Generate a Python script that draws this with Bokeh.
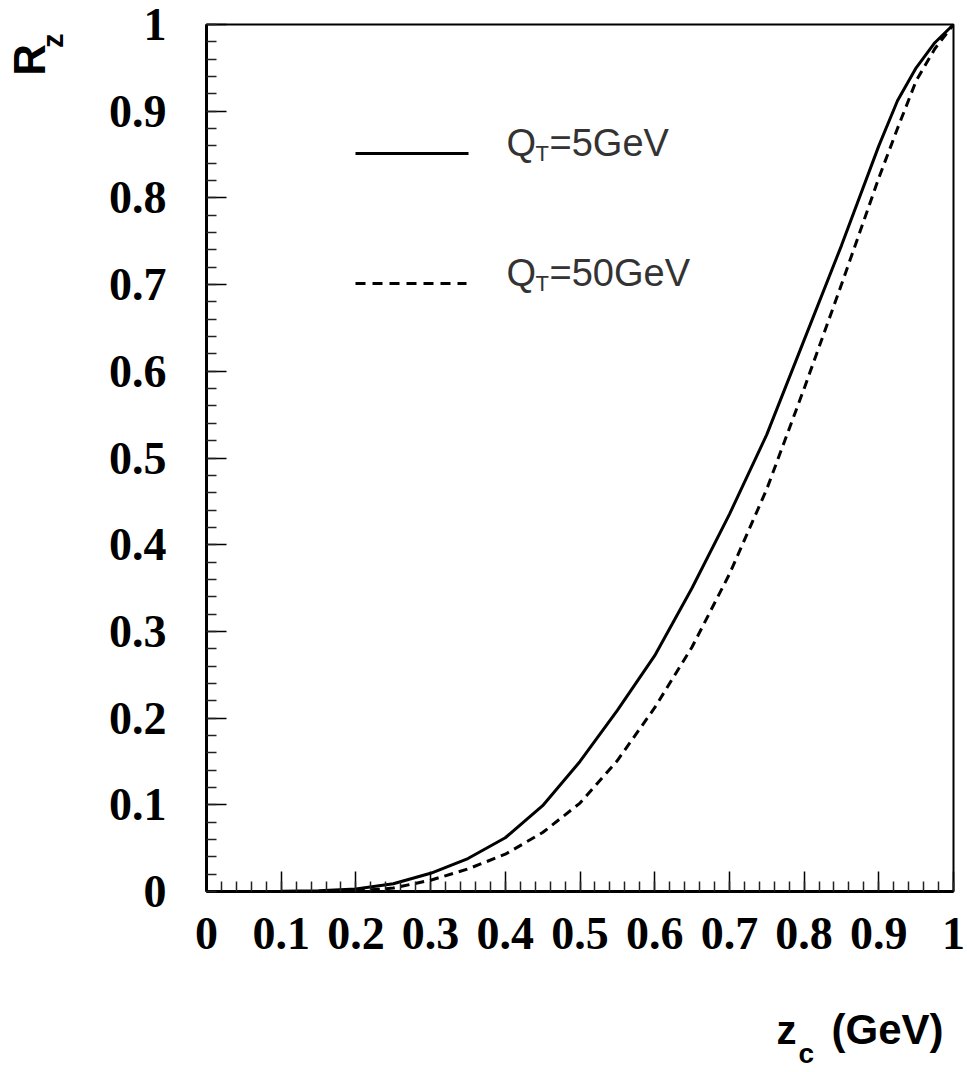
from bokeh.plotting import figure
from bokeh.models import FixedTicker, CustomJSTickFormatter, Label, Range1d
from bokeh.layouts import column, row
from bokeh.embed import file_html
from bokeh.resources import INLINE

# ---------------- data ----------------
z_qt5 = [0.05, 0.10, 0.15, 0.20, 0.25, 0.30, 0.35, 0.40, 0.45, 0.50, 0.55, 0.60,
         0.65, 0.70, 0.75, 0.80, 0.85, 0.90, 0.925, 0.95, 0.975, 1.00]
r_qt5 = [0.0, 0.0003, 0.001, 0.003, 0.009, 0.021, 0.038, 0.062, 0.099, 0.150, 0.209, 0.272,
         0.350, 0.435, 0.527, 0.636, 0.745, 0.860, 0.912, 0.950, 0.979, 1.000]

z_qt50 = [0.20, 0.25, 0.30, 0.35, 0.40, 0.45, 0.50, 0.55, 0.60, 0.65, 0.70,
          0.75, 0.80, 0.85, 0.90, 0.925, 0.95, 0.975, 1.00]
r_qt50 = [0.0005, 0.004, 0.013, 0.026, 0.043, 0.068, 0.102, 0.151, 0.212, 0.282, 0.366,
          0.464, 0.580, 0.700, 0.823, 0.880, 0.935, 0.972, 1.000]

x_ticks = [0, 0.1, 0.2, 0.3, 0.4, 0.5, 0.6, 0.7, 0.8, 0.9, 1]
y_ticks = [0, 0.1, 0.2, 0.3, 0.4, 0.5, 0.6, 0.7, 0.8, 0.9, 1]
minor = [i * 0.02 for i in range(51)]

legend_labels = ["=5GeV", "=50GeV"]

# ---------------- layout ----------------
W, H = 967, 1072
YT_W = 70           # width of the strip holding the y title
XT_H = 72           # height of the strip holding the x title
PW, PH = W - YT_W, H - XT_H
FL, FR, FT, FB = 206, 953, 24, 891   # frame in page pixels


def dx(px):
    return (px - FL) / (FR - FL)


def dy(py):
    return (FB - py) / (FB - FT)


p = figure(width=PW, height=PH, output_backend="svg", toolbar_location=None,
           x_range=Range1d(0, 1), y_range=Range1d(0, 1),
           min_border_left=FL - YT_W, min_border_right=W - FR,
           min_border_top=FT, min_border_bottom=PH - FB)
p.grid.visible = False
p.background_fill_color = "white"
p.border_fill_color = "white"
p.outline_line_color = "black"
p.outline_line_width = 2

fmt = CustomJSTickFormatter(code="return (Math.round(tick*10)/10).toString();")

for ax, ticks in ((p.xaxis[0], x_ticks), (p.yaxis[0], y_ticks)):
    ax.ticker = FixedTicker(ticks=ticks, minor_ticks=minor)
    ax.formatter = fmt
    ax.axis_line_width = 3
    ax.axis_line_color = "black"
    ax.major_tick_in = 20
    ax.major_tick_out = 0
    ax.minor_tick_in = 10
    ax.minor_tick_out = 0
    ax.major_tick_line_color = "black"
    ax.minor_tick_line_color = "#222222"
    ax.major_tick_line_width = 1.5
    ax.minor_tick_line_width = 1.5
    ax.major_label_text_font = "Liberation Serif"
    ax.major_label_text_font_style = "bold"
    ax.major_label_text_font_size = "46px"
    ax.major_label_text_color = "black"

p.xaxis[0].major_label_standoff = 26
p.yaxis[0].major_label_standoff = 40

# ---------------- curves ----------------
p.line(z_qt5, r_qt5, line_color="black", line_width=3)
p.line(z_qt50, r_qt50, line_color="black", line_width=3, line_dash="9 6")

# ---------------- legend ----------------
p.line([dx(355), dx(468)], [dy(153), dy(153)], line_color="black", line_width=3)
p.line([dx(355), dx(466)], [dy(283), dy(283)], line_color="black", line_width=3,
       line_dash="10 7")

for base_y, lab in zip((142, 272), legend_labels):
    p.add_layout(Label(x=dx(506), y=dy(base_y), text="Q", text_font="Liberation Sans",
                       text_font_size="38px", text_color="#333333",
                       text_align="left", text_baseline="alphabetic"))
    p.add_layout(Label(x=dx(535), y=dy(base_y + 11), text="T", text_font="Liberation Sans",
                       text_font_size="22px", text_color="#333333",
                       text_align="left", text_baseline="alphabetic"))
    p.add_layout(Label(x=dx(549), y=dy(base_y), text=lab, text_font="Liberation Sans",
                       text_font_size="38px", text_color="#333333",
                       text_align="left", text_baseline="alphabetic"))


def blank_fig(w, h, xr, yr):
    f = figure(width=w, height=h, output_backend="svg", toolbar_location=None,
               x_range=Range1d(*xr), y_range=Range1d(*yr),
               x_axis_type=None, y_axis_type=None, min_border=0)
    f.grid.visible = False
    f.outline_line_color = None
    f.background_fill_color = "white"
    f.border_fill_color = "white"
    return f


# ---------------- y title: R_z (rotated) ----------------
yfig = blank_fig(YT_W, PH, (0, YT_W), (PH, 0))
yfig.add_layout(Label(x=29, y=59, text="R", angle=1.5707963267948966,
                      text_font="Liberation Sans", text_font_style="bold",
                      text_font_size="44px", text_color="black",
                      text_align="left", text_baseline="alphabetic"))
yfig.add_layout(Label(x=52, y=27, text="z", angle=1.5707963267948966,
                      text_font="Liberation Sans", text_font_style="bold",
                      text_font_size="29px", text_color="black",
                      text_align="left", text_baseline="alphabetic"))

# ---------------- x title: z_c (GeV) ----------------
xfig = blank_fig(W, XT_H, (0, W), (XT_H, 0))
xfig.add_layout(Label(x=776, y=29, text="z", text_font="Liberation Sans",
                      text_font_style="bold", text_font_size="40px", text_color="black",
                      text_align="left", text_baseline="alphabetic"))
xfig.add_layout(Label(x=798, y=53, text="c", text_font="Liberation Sans",
                      text_font_style="bold", text_font_size="28px", text_color="black",
                      text_align="left", text_baseline="alphabetic"))
xfig.add_layout(Label(x=887, y=29, text="(GeV)", text_font="Liberation Sans",
                      text_font_style="bold", text_font_size="42px", text_color="black",
                      text_align="center", text_baseline="alphabetic"))

layout = column(row(yfig, p, spacing=0), xfig, spacing=0)

open("out.html", "w").write(file_html(layout, INLINE))
